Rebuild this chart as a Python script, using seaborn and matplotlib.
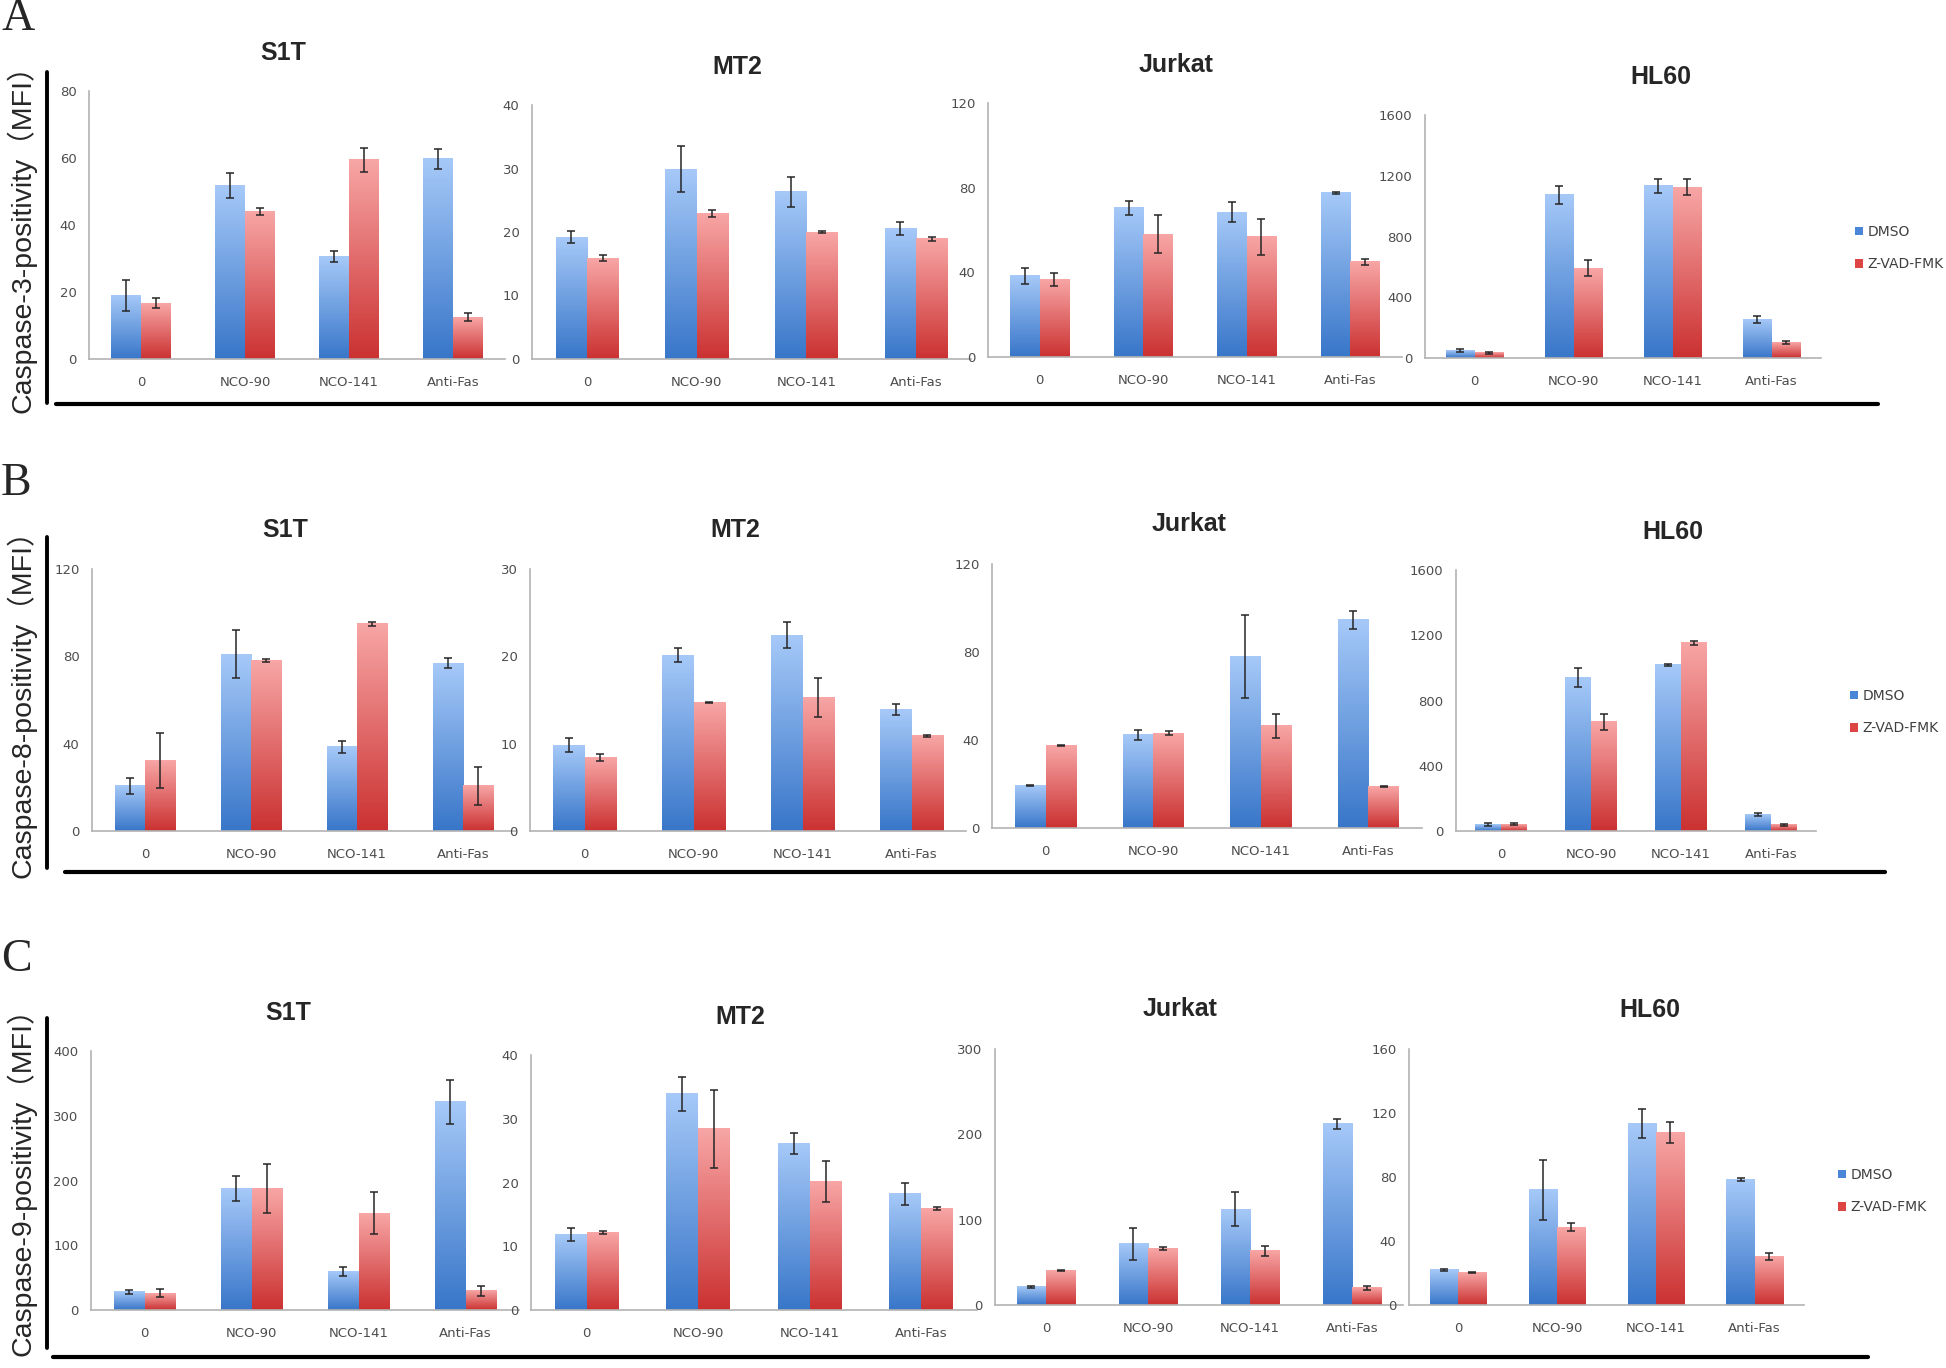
import numpy as np
import pandas as pd
import matplotlib.pyplot as plt
import seaborn as sns
from matplotlib.colors import LinearSegmentedColormap
from matplotlib.patches import Patch
from matplotlib.lines import Line2D

treatments = ["0", "NCO-90", "NCO-141", "Anti-Fas"]
cell_lines = ["S1T", "MT2", "Jurkat", "HL60"]
groups = ["DMSO", "Z-VAD-FMK"]

# one row per cell line (S1T, MT2, Jurkat, HL60), one column per treatment
c3_dmso = [[18.9, 51.7, 30.7, 59.8],
           [19.2, 29.9, 26.3, 20.6],
           [38.4, 70.6, 68.5, 77.6],
           [50, 1074, 1133, 252]]
c3_dmso_err = [[4.7, 3.7, 1.6, 3.0],
               [0.9, 3.6, 2.4, 1.0],
               [3.8, 3.3, 4.5, 0.5],
               [9, 59, 44, 22]]
c3_zvad = [[16.6, 44.1, 59.5, 12.4],
           [15.9, 22.9, 20.0, 18.9],
           [36.6, 58.0, 56.9, 44.9],
           [33, 592, 1125, 103]]
c3_zvad_err = [[1.5, 1.1, 3.6, 1.2],
               [0.5, 0.6, 0.2, 0.3],
               [2.9, 9.0, 8.5, 1.2],
               [8, 55, 52, 8]]
c3_ymax = [80, 40, 120, 1600]
c3_step = [20, 10, 40, 400]

c8_dmso = [[20.7, 81.0, 38.6, 76.8],
           [9.8, 20.1, 22.4, 13.9],
           [19.2, 42.4, 77.9, 94.6],
           [40, 941, 1018, 102]]
c8_dmso_err = [[3.6, 11.1, 2.7, 2.3],
               [0.8, 0.8, 1.5, 0.6],
               [0.3, 2.2, 19.0, 4.2],
               [8, 57, 5, 8]]
c8_zvad = [[32.3, 78.1, 94.9, 20.7],
           [8.4, 14.7, 15.3, 10.9],
           [37.4, 43.1, 46.5, 18.9],
           [42, 669, 1153, 39]]
c8_zvad_err = [[12.4, 0.5, 0.8, 8.7],
               [0.4, 0.1, 2.2, 0.1],
               [0.3, 0.9, 5.4, 0.4],
               [8, 51, 10, 6]]
c8_ymax = [120, 30, 120, 1600]
c8_step = [40, 10, 40, 400]

c9_dmso = [[27.8, 187.7, 59.1, 321.9],
           [11.8, 33.9, 26.1, 18.2],
           [21.5, 71.6, 112.2, 212.4],
           [21.9, 72.0, 113.3, 78.2]]
c9_dmso_err = [[3.0, 19.0, 6.7, 34.0],
               [1.0, 2.7, 1.7, 1.8],
               [1.0, 18.4, 20.0, 5.8],
               [0.5, 18.8, 9.2, 1.0]]
c9_zvad = [[25.7, 187.7, 149.1, 29.8],
           [12.2, 28.4, 20.1, 15.9],
           [40.3, 66.5, 63.4, 20.3],
           [20.2, 48.6, 107.8, 30.2]]
c9_zvad_err = [[6.0, 38.5, 32.4, 7.7],
               [0.2, 6.1, 3.2, 0.2],
               [1.0, 2.0, 5.8, 2.4],
               [0.5, 2.5, 6.5, 2.1]]
c9_ymax = [400, 40, 300, 160]
c9_step = [100, 10, 100, 40]

ylabels = ["Caspase-3-positivity（MFI）", "Caspase-8-positivity（MFI）", "Caspase-9-positivity（MFI）"]
panel_letters = ["A", "B", "C"]

rows = [
    (c3_dmso, c3_dmso_err, c3_zvad, c3_zvad_err, c3_ymax, c3_step),
    (c8_dmso, c8_dmso_err, c8_zvad, c8_zvad_err, c8_ymax, c8_step),
    (c9_dmso, c9_dmso_err, c9_zvad, c9_zvad_err, c9_ymax, c9_step),
]

# layout in pixels of the 1946x1368 figure: (x left, x right, y top, y bottom)
boxes = [
    [(89, 505, 91, 359), (532, 971, 105, 359), (988, 1402, 103, 357), (1425, 1821, 115, 358)],
    [(92, 516, 569, 831), (530, 966, 569, 831), (992, 1422, 564, 828), (1456, 1816, 570, 831)],
    [(91, 519, 1051, 1310), (531, 977, 1055, 1310), (995, 1403, 1049, 1305), (1409, 1804, 1049, 1305)],
]
title_pos = [
    [(283, 53), (737, 67), (1176, 65), (1661, 77)],
    [(285, 530), (735, 530), (1189, 524), (1673, 532)],
    [(288, 1013), (740, 1017), (1180, 1009), (1650, 1010)],
]
legend_pos = [(1848, 248), (1843, 712), (1831, 1191)]
ylabel_y = [232, 697, 1175]
letter_pos = [(18, 19), (16, 484), (16, 960)]
vline_y = [(72, 403), (537, 868), (1018, 1348)]
hline = [(404, 56, 1878), (872, 65, 1885), (1357, 53, 1868)]

W, H = 1946, 1368
sns.set_style("white")
plt.rcParams["font.family"] = ["DejaVu Sans"]

fig = plt.figure(figsize=(W / 100, H / 100), dpi=100)


def fx(x):
    return x / W


def fy(y):
    return 1 - y / H


blue_cmap = LinearSegmentedColormap.from_list("blue_grad", ["#3876c9", "#a6c9f8"])
red_cmap = LinearSegmentedColormap.from_list("red_grad", ["#cb3131", "#f8a6a6"])
grad = np.linspace(0, 1, 256).reshape(-1, 1)

for r, (dmso, dmso_err, zvad, zvad_err, ymax, step) in enumerate(rows):
    for c, cell in enumerate(cell_lines):
        x0, x1, yt, yb = boxes[r][c]
        ax = fig.add_axes([fx(x0), fy(yb), fx(x1) - fx(x0), fy(yt) - fy(yb)])

        df = pd.DataFrame({
            "treatment": treatments * 2,
            "group": [groups[0]] * 4 + [groups[1]] * 4,
            "value": dmso[c] + zvad[c],
        })
        sns.barplot(data=df, x="treatment", y="value", hue="group",
                    palette=["#6fa0e0", "#e06f6f"], width=0.57, errorbar=None,
                    legend=False, saturation=1, ax=ax)

        ax.set_xlim(-0.5, 3.5)
        ax.set_ylim(0, ymax[c])

        # gradient fill on every bar, plus error bars
        errs = [dmso_err[c], zvad_err[c]]
        vals = [dmso[c], zvad[c]]
        for k, (cont, cmap) in enumerate(zip(ax.containers, [blue_cmap, red_cmap])):
            xs = []
            for bar in cont:
                bx, bw, bh = bar.get_x(), bar.get_width(), bar.get_height()
                bar.set_alpha(0)
                ax.imshow(grad, cmap=cmap, origin="lower", aspect="auto",
                          extent=[bx, bx + bw, 0, bh], zorder=2)
                xs.append(bx + bw / 2)
            ax.errorbar(xs, vals[k], yerr=errs[k], fmt="none", ecolor="#262626",
                        elinewidth=1.1, capsize=3.2, capthick=1.1, zorder=3)
        ax.set_xlim(-0.5, 3.5)
        ax.set_ylim(0, ymax[c])

        ax.set_yticks(np.arange(0, ymax[c] + step[c] / 2, step[c]))
        ax.set_xlabel("")
        ax.set_ylabel("")
        sns.despine(ax=ax)
        for side in ["left", "bottom"]:
            ax.spines[side].set_color("#b3b3b3")
            ax.spines[side].set_linewidth(1.2)
        ax.tick_params(axis="y", length=0, pad=9, labelsize=9.5, labelcolor="#4d4d4d")
        ax.tick_params(axis="x", length=0, pad=12, labelsize=9.5, labelcolor="#4d4d4d")
        ax.patch.set_alpha(0)

        tx, ty = title_pos[r][c]
        fig.text(fx(tx), fy(ty), cell, ha="center", va="center", fontsize=18,
                 fontweight="bold", family=["Liberation Sans", "DejaVu Sans"])

        if c == 3:
            handles = [Patch(facecolor="#4a86d8", edgecolor="none"),
                       Patch(facecolor="#dd4444", edgecolor="none")]
            lx, ly = legend_pos[r]
            ax.legend(handles, groups, loc="center left", bbox_to_anchor=(fx(lx), fy(ly)),
                      bbox_transform=fig.transFigure, frameon=False, fontsize=10,
                      handlelength=0.6, handleheight=0.6, handletextpad=0.3,
                      labelspacing=1.3, borderpad=0, labelcolor="#404040")

    # row decorations: panel letter, y label, black frame lines
    lx, ly = letter_pos[r]
    fig.text(fx(lx), fy(ly), panel_letters[r], ha="center", va="center", fontsize=33,
             family=["Liberation Serif", "DejaVu Serif"])
    fig.text(fx(21), fy(ylabel_y[r]), ylabels[r], rotation=90, ha="center", va="center",
             fontsize=20.5, family=["Liberation Sans", "Noto Sans CJK SC", "DejaVu Sans"])
    y0, y1 = vline_y[r]
    fig.add_artist(Line2D([fx(47), fx(47)], [fy(y0), fy(y1)], color="black", lw=2.8,
                          transform=fig.transFigure))
    hy, hx0, hx1 = hline[r]
    fig.add_artist(Line2D([fx(hx0), fx(hx1)], [fy(hy), fy(hy)], color="black", lw=3,
                          transform=fig.transFigure))

fig.savefig("out.png", dpi=100)
